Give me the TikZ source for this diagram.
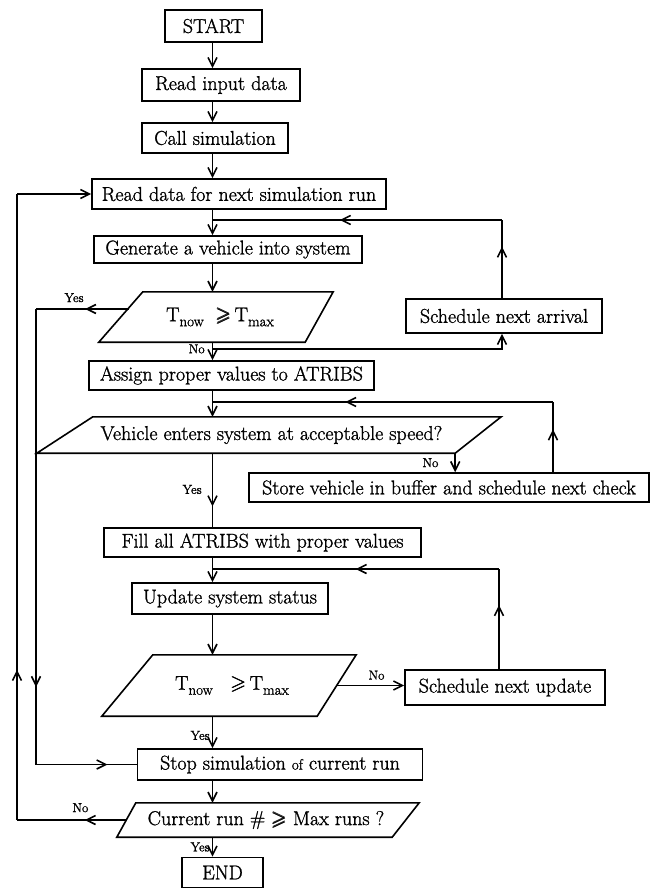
\documentclass[tikz,border=0pt]{standalone}
\usepackage{amsmath}
\usepackage{amssymb}
\usepackage{fontspec}
\newfontfamily\chartfont{Latin Modern Roman}[FakeBold=1.2]
\usetikzlibrary{arrows.meta,decorations.markings,calc}

\tikzset{
  >={Straight Barb[length=9pt,width=9pt]},
  box/.style={draw, rectangle, line width=1.6pt, inner sep=0pt, font=\chartfont\fontsize{20}{24}\selectfont},
  dec/.style={rectangle, inner sep=0pt, font=\chartfont\fontsize{20}{24}\selectfont},
  lbl/.style={font=\chartfont\fontsize{13}{15}\selectfont, inner sep=1pt},
  flow/.style={line width=1.6pt},
  midarr/.style={postaction={decorate,decoration={markings,mark=at position #1 with {\arrow{>}}}}},
}

\begin{document}
\begin{tikzpicture}[x=1pt, y=-1pt]
\useasboundingbox (0,0) rectangle (651,888);
\coordinate (ax) at (212.5,0);

% main column
\node[box, minimum width=97pt, minimum height=32pt] (start) at (213.5,26) {START};
\node[box, minimum width=158pt, minimum height=32pt] (readin) at (221,85) {Read input data};
\node[box, minimum width=146pt, minimum height=30pt] (callsim) at (215,138) {Call simulation};
\node[box, minimum width=294pt, minimum height=30pt] (readrun) at (239,194) {Read data for next simulation run};
\node[box, minimum width=268pt, minimum height=27pt] (genveh) at (228,249.5) {Generate a vehicle into system};
\node[dec, minimum width=198pt, minimum height=50pt] (tmaxa) at (220,317) {T\raisebox{-5pt}{\fontsize{15}{18}\selectfont now}\ \ \pmb{$\geqslant$}\,T\raisebox{-5pt}{\fontsize{15}{18}\selectfont max}};
\node[box, minimum width=285pt, minimum height=29pt] (assign) at (231.5,375.5) {Assign proper values to ATRIBS};
\node[dec, minimum width=413pt, minimum height=36pt] (speed) at (271.5,435) {Vehicle enters system at acceptable speed?};
\node[box, minimum width=317pt, minimum height=29pt] (fill) at (262.5,542.5) {Fill all ATRIBS with proper values};
\node[box, minimum width=196pt, minimum height=31pt] (update) at (230,598.5) {Update system status};
\node[dec, minimum width=209pt, minimum height=61pt] (tmaxb) at (232,685.5) {T\raisebox{-5pt}{\fontsize{15}{18}\selectfont now}\ \ \ \pmb{$\geqslant$}\,T\raisebox{-5pt}{\fontsize{15}{18}\selectfont max}};
\node[box, minimum width=285pt, minimum height=31pt] (stop) at (280,764.5) {Stop simulation {\fontsize{15}{18}\selectfont of} current run};
\node[dec, minimum width=279pt, minimum height=34pt] (maxrun) at (266,820) {Current run \# \pmb{$\geqslant$} Max runs ?};
\node[box, minimum width=81pt, minimum height=30pt] (finish) at (222.5,872.5) {END};

% side boxes
\node[box, minimum width=196pt, minimum height=34pt] (arrival) at (504,316) {Schedule next arrival};
\node[box, minimum width=400pt, minimum height=29pt] (buffer) at (449,487.5) {Store vehicle in buffer and schedule next check};
\node[box, minimum width=200pt, minimum height=35pt] (nextupd) at (505,687.5) {Schedule next update};

% slanted outlines of the tests
\draw[flow] ($(tmaxa.south west)+(-22,0)$) -- ($(tmaxa.north west)+(22,0)$) -- ($(tmaxa.north east)+(14,0)$) -- ($(tmaxa.south east)+(-14,0)$) -- cycle;
\draw[flow] ($(speed.south west)+(-28,0)$) -- ($(speed.north west)+(28,0)$) -- ($(speed.north east)+(23,0)$) -- ($(speed.south east)+(-23,0)$) -- cycle;
\draw[flow] ($(tmaxb.south west)+(-25.5,0)$) -- ($(tmaxb.north west)+(25.5,0)$) -- ($(tmaxb.north east)+(19.5,0)$) -- ($(tmaxb.south east)+(-19.5,0)$) -- cycle;
\draw[flow] ($(maxrun.south west)+(-9.5,0)$) -- ($(maxrun.north west)+(9.5,0)$) -- ($(maxrun.north east)+(13.5,0)$) -- ($(maxrun.south east)+(-13.5,0)$) -- cycle;

% junctions
\coordinate (ja) at (212.5,220);
\coordinate (jb) at (212.5,402);
\coordinate (jc) at (212.5,569);
\coordinate (jno) at (212.5,349);
\coordinate (lpa) at (502,220);
\coordinate (lpb) at (553,402);
\coordinate (lpc) at (499,569);
\coordinate (inl) at (36,309);
\coordinate (outl) at (17,194);
\coordinate (ya) at ($(tmaxa.west)+(8,-8)$);
\coordinate (nb) at ($(speed.south east)+(-23,0)$);

\draw[flow,->] (start.south -| ax) -- (readin.north -| ax);
\draw[flow,->] (readin.south -| ax) -- (callsim.north -| ax);
\draw[flow,->] (callsim.south -| ax) -- (readrun.north -| ax);
\draw[flow,->] (readrun.south -| ax) -- (genveh.north -| ax);
\draw[flow,->] (genveh.south -| ax) -- (tmaxa.north -| ax);

% first test
\draw[flow,->] (tmaxa.south -| ax) -- node[lbl, left=6pt, pos=0.37] (noa) {No} (assign.north -| ax);
\draw[flow,->] (jno) -| (arrival.south -| lpa);
\draw[flow,midarr=0.66] (arrival.north -| lpa) -- (lpa);
\draw[flow,midarr=0.56] (lpa) -- (ja);
\draw[flow,midarr=0.47] (ya) -- node[lbl, above=5pt, pos=0.59] (yesa) {Yes} (ya -| inl);
\draw[flow,midarr=0.83] (ya -| inl) -- (inl |- stop.west);
\draw[flow,midarr=0.71] (inl |- stop.west) -- (stop.west);

% speed test
\draw[flow,->] (assign.south -| ax) -- (speed.north -| ax);
\draw[flow,->] (nb) -- node[lbl, left=15pt, midway] (nob) {No} (nb |- buffer.north);
\draw[flow,midarr=0.61] (lpb |- buffer.north) -- (lpb);
\draw[flow,midarr=0.61] (lpb) -- (jb);
\draw[flow,midarr=0.72] (speed.south -| ax) -- node[lbl, left=9pt, pos=0.49] (yesb) {Yes} (fill.north -| ax);

% second test
\draw[flow,->] (fill.south -| ax) -- (update.north -| ax);
\draw[flow,->] (update.south -| ax) -- (tmaxb.north -| ax);
\draw[flow,->] (tmaxb.east) -- node[lbl, above=4pt, pos=0.59] (noc) {No} (tmaxb.east -| nextupd.west);
\draw[flow,midarr=0.64] (lpc |- nextupd.north) -- (lpc);
\draw[flow,midarr=0.5] (lpc) -- (jc);
\draw[flow,->] (tmaxb.south -| ax) -- node[lbl, left=1pt, pos=0.6] (yesc) {Yes} (stop.north -| ax);

% run count
\draw[flow,->] (stop.south -| ax) -- (maxrun.north -| ax);
\draw[flow,midarr=0.38] (maxrun.west) -- node[lbl, above=6pt, pos=0.42] (nod) {No} (maxrun.west -| outl);
\draw[flow,midarr=0.24] (maxrun.west -| outl) -- (outl);
\draw[flow,->] (outl) -- (readrun.west);
\draw[flow,->] (maxrun.south -| ax) -- node[lbl, left=1pt, midway] (yesd) {Yes} (finish.north -| ax);
\end{tikzpicture}
\end{document}
